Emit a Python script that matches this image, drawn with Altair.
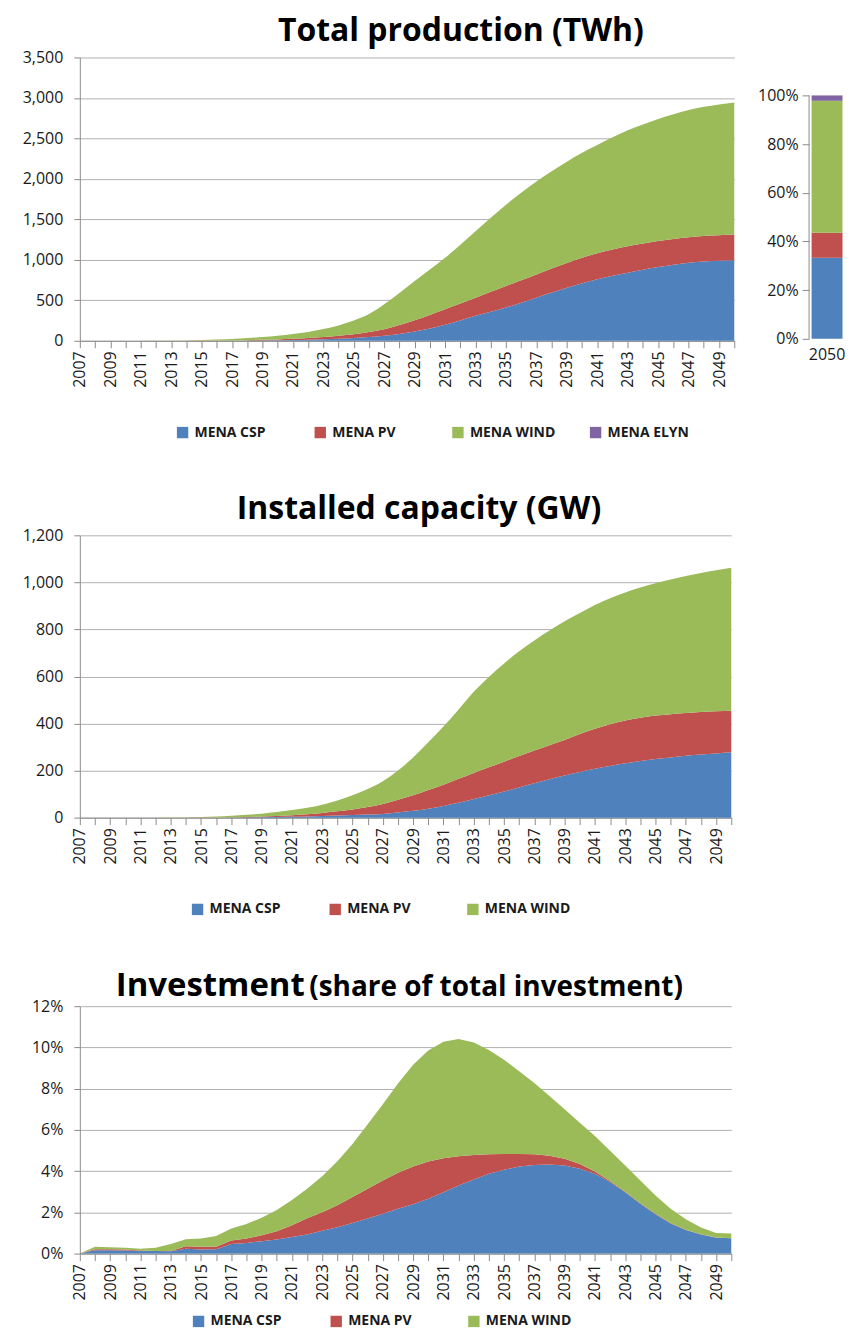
import altair as alt
import pandas as pd

FONT = "Open Sans"
GRID = "#b0b0b0"
AXIS = "#8c8c8c"
TXT = "#1a1a1a"

YEARS = list(range(2007, 2051))
SERIES = ["MENA CSP", "MENA PV", "MENA WIND", "MENA ELYN"]
COLORS = ["#4F81BD", "#C0504D", "#9BBB59", "#8064A2"]

# ---- Total production (TWh), per technology -------------------------------
PROD_CSP = [0, 0, 0, 0, 0, 0, 0, 0, 1, 1,
            2, 3, 5, 7, 10, 14, 19, 26, 35, 47,
            62, 85, 115, 152, 197, 250, 308, 358, 410, 470,
            533, 595, 656, 710, 759, 802, 841, 877, 910, 939,
            964, 980, 990, 996]
PROD_PV = [0, 0, 0, 0, 0, 0, 0, 1, 1, 2,
           3, 5, 7, 10, 14, 20, 27, 36, 47, 61,
           81, 110, 139, 168, 193, 210, 225, 247, 267, 278,
           287, 297, 306, 315, 322, 326, 328, 326, 322, 319,
           316, 315, 315, 316]
PROD_WIND = [0, 0, 0, 0, 1, 2, 3, 4, 7, 12,
             18, 25, 35, 46, 61, 76, 99, 128, 168, 222,
             308, 395, 484, 560, 635, 725, 820, 915, 1004, 1082,
             1148, 1203, 1250, 1297, 1338, 1385, 1431, 1470, 1508, 1540,
             1570, 1595, 1615, 1632]
SHARE_2050 = [33.3, 10.3, 54.2, 2.2]   # CSP, PV, WIND, ELYN (%)

# ---- Installed capacity (GW) ----------------------------------------------
CAP_CSP = [0, 0, 0, 0, 0, 0, 0, 0, 0, 0,
           1, 1, 2, 3, 4, 5, 7, 9, 11, 13,
           16, 22, 29, 38, 50, 63, 79, 95, 111, 128,
           146, 163, 179, 194, 208, 220, 231, 241, 249, 256,
           263, 268, 273, 278]
CAP_PV = [0, 0, 0, 0, 0, 0, 0, 0, 1, 1,
          1, 2, 3, 4, 6, 9, 13, 18, 24, 32,
          42, 54, 66, 79, 90, 102, 111, 119, 127, 134,
          139, 145, 151, 161, 170, 177, 182, 184, 185, 184,
          182, 181, 179, 176]
CAP_WIND = [0, 0, 0, 0, 0, 0, 1, 1, 2, 4,
            6, 9, 12, 17, 22, 28, 35, 46, 60, 77,
            97, 124, 161, 203, 247, 295, 345, 384, 417, 445,
            468, 487, 505, 515, 526, 535, 544, 553, 562, 572,
            582, 591, 600, 608]

# ---- Investment (% of total investment) -----------------------------------
INV_CSP = [0, 0.16, 0.16, 0.15, 0.13, 0.13, 0.11, 0.24, 0.20, 0.21,
           0.46, 0.52, 0.60, 0.68, 0.80, 0.93, 1.11, 1.28, 1.49, 1.70,
           1.93, 2.17, 2.39, 2.66, 2.98, 3.30, 3.59, 3.87, 4.07, 4.22,
           4.30, 4.32, 4.27, 4.11, 3.87, 3.47, 2.98, 2.42, 1.91, 1.46,
           1.14, 0.93, 0.77, 0.74]
INV_PV = [0, 0.05, 0.05, 0.05, 0.02, 0.0, 0.02, 0.12, 0.13, 0.12,
          0.17, 0.21, 0.29, 0.41, 0.58, 0.78, 0.89, 1.07, 1.26, 1.45,
          1.62, 1.75, 1.83, 1.81, 1.65, 1.42, 1.19, 0.95, 0.76, 0.61,
          0.52, 0.43, 0.33, 0.24, 0.11, 0.05, 0.02, 0.02, 0.02, 0.02,
          0.02, 0.01, 0.01, 0.01]
INV_WIND = [0, 0.12, 0.10, 0.08, 0.09, 0.15, 0.33, 0.34, 0.40, 0.52,
            0.59, 0.70, 0.85, 1.02, 1.22, 1.44, 1.75, 2.13, 2.56, 3.12,
            3.69, 4.33, 4.94, 5.38, 5.65, 5.69, 5.46, 5.06, 4.57, 4.01,
            3.46, 2.89, 2.40, 2.00, 1.73, 1.47, 1.27, 1.11, 0.89, 0.70,
            0.51, 0.33, 0.22, 0.22]

PROD_TICKS = [0, 500, 1000, 1500, 2000, 2500, 3000, 3500]
CAP_TICKS = [0, 200, 400, 600, 800, 1000, 1200]
INV_TICKS = [0, 2, 4, 6, 8, 10, 12]
PCT_TICKS = [0, 20, 40, 60, 80, 100]


def long_df(csp, pv, wind):
    rows = []
    for i, yr in enumerate(YEARS):
        for k, vals in enumerate([csp, pv, wind]):
            rows.append({"year": yr, "series": SERIES[k], "value": vals[i], "order": k})
    return pd.DataFrame(rows)


def x_enc():
    return alt.X(
        "year:Q",
        scale=alt.Scale(domain=[2007, 2050], nice=False, zero=False),
        axis=alt.Axis(
            values=YEARS, format="d",
            labelExpr="datum.value % 2 == 1 ? datum.label : ''",
            labelAngle=-90, labelOverlap=False, labelFlush=False, labelBound=False,
            grid=False, tickSize=7, tickColor=AXIS, domainColor=AXIS,
            labelFont=FONT, labelFontSize=16, labelColor=TXT, labelPadding=3,
            title=None,
        ),
    )


def y_enc(domain, ticks, label_expr=None, fmt=None):
    kw = dict(
        values=ticks, grid=True, gridColor=GRID, gridWidth=1,
        tickSize=6, tickColor=AXIS, domainColor=AXIS,
        labelFont=FONT, labelFontSize=16, labelColor=TXT, labelPadding=11,
        minExtent=58, title=None,
    )
    if label_expr:
        kw["labelExpr"] = label_expr
    if fmt:
        kw["format"] = fmt
    return alt.Y("value:Q", stack="zero",
                 scale=alt.Scale(domain=domain, nice=False),
                 axis=alt.Axis(**kw))


def legend(x, y):
    return alt.Legend(
        orient="none", legendX=x, legendY=y, direction="horizontal",
        columns=4, gridAlign="all", title=None,
        symbolType="square", symbolSize=130, symbolStrokeWidth=0,
        labelFont=FONT, labelFontSize=14, labelFontWeight="bold",
        labelColor=TXT, columnPadding=33, labelOffset=5,
    )


def area_chart(df, names, domain, ticks, leg, w, h, interp, label_expr=None, fmt=None):
    return alt.Chart(df).mark_area(interpolate=interp).encode(
        x=x_enc(),
        y=y_enc(domain, ticks, label_expr, fmt),
        color=alt.Color("series:N",
                        scale=alt.Scale(domain=names, range=COLORS[:len(names)]),
                        legend=leg),
        order=alt.Order("order:Q"),
    ).properties(width=w, height=h)


def title_text(text, size, x, y, align):
    return alt.Chart(pd.DataFrame({"t": [text]})).mark_text(
        font=FONT, fontSize=size, fontWeight="bold", align=align,
        baseline="alphabetic", color="black",
    ).encode(text="t:N", x=alt.value(x), y=alt.value(y))


# --- Row 1: production + 2050 share bar
prod_area = area_chart(long_df(PROD_CSP, PROD_PV, PROD_WIND), SERIES, [0, 3500],
                       PROD_TICKS, legend(96, 369), 656, 284, "monotone", fmt=",d")
prod = alt.layer(prod_area, title_text("Total production (TWh)", 32, 382, -17, "center"))

BAR_DOMAIN = [-0.8, 115.6]
bar_df = pd.DataFrame({"cat": ["2050"] * 4, "series": SERIES,
                       "value": SHARE_2050, "order": [0, 1, 2, 3]})
bar_base = alt.Chart(bar_df).mark_bar(size=31).encode(
    x=alt.X("cat:N", axis=alt.Axis(labelAngle=0, ticks=False, domain=False,
                                   labelFont=FONT, labelFontSize=16, labelColor=TXT,
                                   labelPadding=6, title=None)),
    y=alt.Y("value:Q", stack="zero", scale=alt.Scale(domain=BAR_DOMAIN, nice=False),
            axis=alt.Axis(values=PCT_TICKS, labelExpr="datum.value + '%'", grid=False,
                          domain=False, tickSize=7, tickColor=AXIS,
                          labelFont=FONT, labelFontSize=16, labelColor=TXT,
                          labelPadding=4, title=None)),
    color=alt.Color("series:N", scale=alt.Scale(domain=SERIES, range=COLORS), legend=None),
    order=alt.Order("order:Q"),
)
bar_axis_line = alt.Chart(pd.DataFrame({"lo": [0], "hi": [100]})).mark_rule(
    color=AXIS, strokeWidth=1).encode(
    x=alt.value(0),
    y=alt.Y("lo:Q", scale=alt.Scale(domain=BAR_DOMAIN, nice=False)),
    y2="hi:Q",
)
bar = alt.layer(bar_base, bar_axis_line).properties(width=36, height=284)

row1 = alt.hconcat(prod, bar, spacing=15).resolve_scale(color="independent")

# --- Row 2: installed capacity
cap_area = area_chart(long_df(CAP_CSP, CAP_PV, CAP_WIND), SERIES[:3], [0, 1200], CAP_TICKS,
                      legend(111, 368), 653, 283, "monotone", fmt=",d")
cap = alt.layer(cap_area, title_text("Installed capacity (GW)", 32, 340, -16, "center"))

# --- Row 3: investment
inv_area = area_chart(long_df(INV_CSP, INV_PV, INV_WIND), SERIES[:3], [0, 12], INV_TICKS,
                      legend(112, 309), 653, 248, "linear",
                      label_expr="datum.value + '%'")
inv = alt.layer(
    inv_area,
    title_text("Investment", 33, 36, -10, "left"),
    title_text("(share of total investment)", 28, 230, -10, "left"),
)

chart = alt.vconcat(row1, cap, inv, spacing=54).resolve_scale(
    color="independent"
).properties(
    padding={"left": 14, "top": 5, "right": 0, "bottom": 0},
    background="white",
).configure_view(stroke=None)

chart.save("out.html", embed_options={"renderer": "svg", "actions": False})
